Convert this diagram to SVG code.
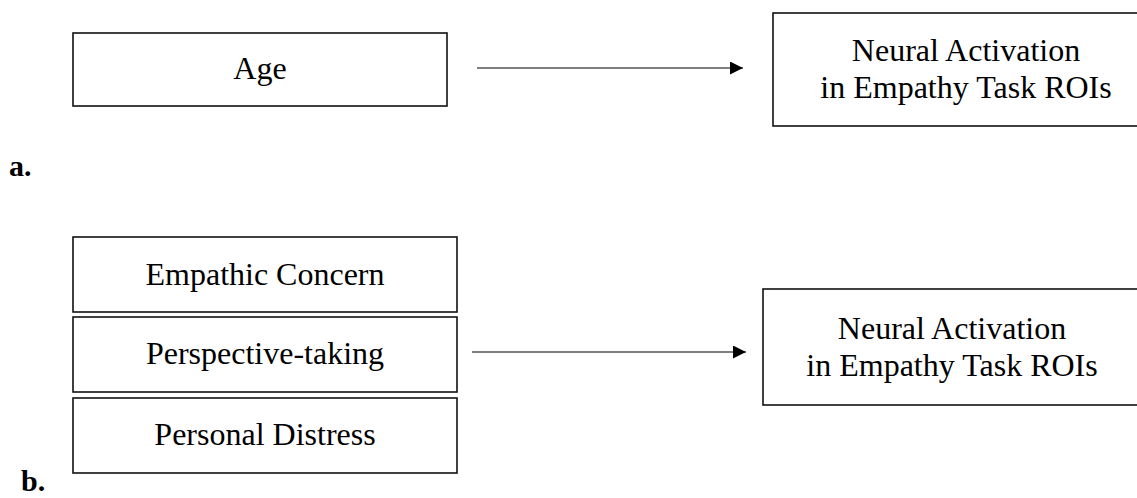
<svg xmlns="http://www.w3.org/2000/svg" width="1137" height="498" viewBox="0 0 1137 498">
<style>
.box{fill:#fff;stroke:#111;stroke-width:1.6}
.t{font-family:"Liberation Serif","Times New Roman",serif;font-size:32px;fill:#000;text-anchor:middle}
.lbl{font-family:"Liberation Serif","Times New Roman",serif;font-size:30px;font-weight:bold;fill:#000}
.conn{stroke:#555;stroke-width:1.3;fill:none}
</style>
<defs>
<marker id="ah" markerUnits="userSpaceOnUse" markerWidth="13" markerHeight="13" refX="13" refY="6.5" orient="auto">
<path d="M0,0 L13,6.5 L0,13 Z" fill="#000"/>
</marker>
</defs>
<rect width="1137" height="498" fill="#fff"/>
<g id="age">
<rect class="box" x="73" y="33" width="374" height="73"/>
<text class="t" x="260" y="79">Age</text>
</g>
<g id="neural-a">
<rect class="box" x="773" y="13" width="384" height="113"/>
<text class="t" x="966" y="61">Neural Activation</text>
<text class="t" x="966" y="98">in Empathy Task ROIs</text>
</g>
<g id="label-a"><text class="lbl" x="9" y="176">a.</text></g>
<g id="empathic-concern">
<rect class="box" x="73" y="237" width="384" height="75"/>
<text class="t" x="265" y="285">Empathic Concern</text>
</g>
<g id="perspective-taking">
<rect class="box" x="73" y="317" width="384" height="75"/>
<text class="t" x="265" y="364">Perspective-taking</text>
</g>
<g id="personal-distress">
<rect class="box" x="73" y="398" width="384" height="75"/>
<text class="t" x="265" y="445">Personal Distress</text>
</g>
<g id="neural-b">
<rect class="box" x="763" y="289" width="376" height="116"/>
<text class="t" x="952" y="339">Neural Activation</text>
<text class="t" x="952" y="376">in Empathy Task ROIs</text>
</g>
<g id="label-b"><text class="lbl" x="21" y="491">b.</text></g>
<g id="connectors">
<line class="conn" x1="477" y1="68" x2="743" y2="68" marker-end="url(#ah)"/>
<line class="conn" x1="472" y1="352" x2="746" y2="352" marker-end="url(#ah)"/>
</g>
</svg>
